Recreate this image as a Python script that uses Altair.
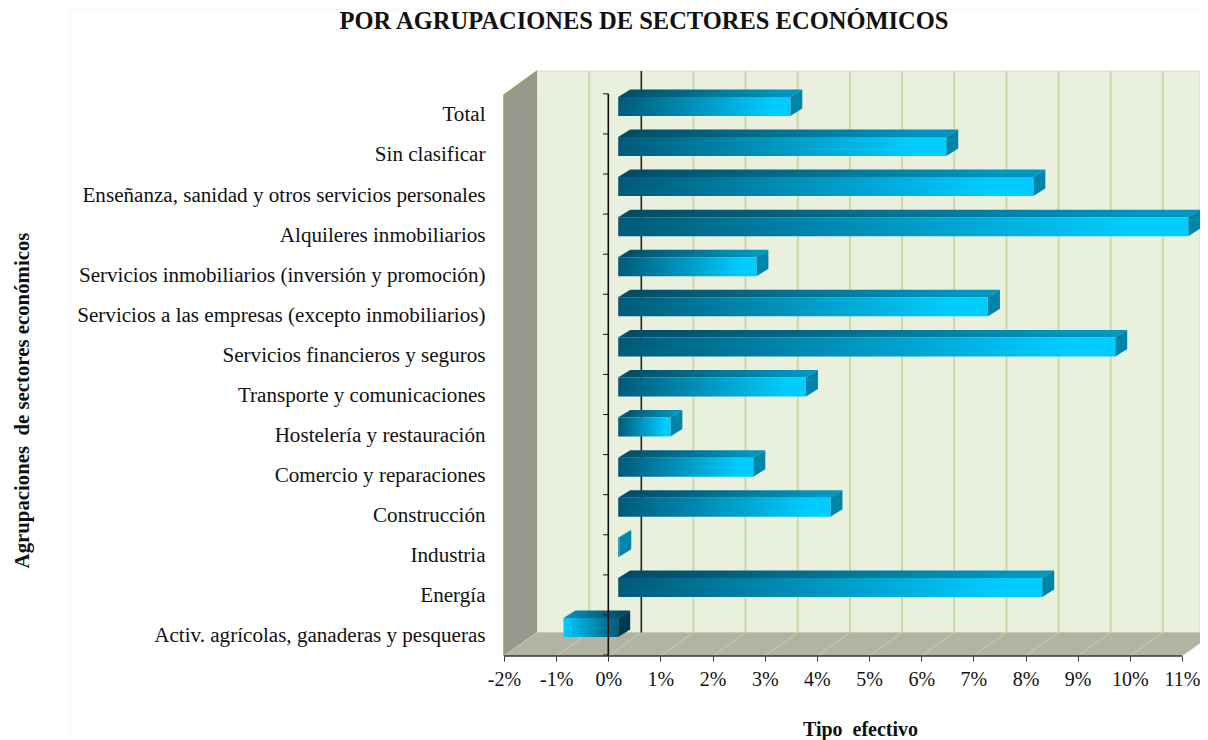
import altair as alt
import pandas as pd

categories = ["Activ. agrícolas, ganaderas y pesqueras", "Energía", "Industria", "Construcción",
              "Comercio y reparaciones", "Hostelería y restauración", "Transporte y comunicaciones",
              "Servicios financieros y seguros", "Servicios a las empresas (excepto inmobiliarios)",
              "Servicios inmobiliarios (inversión y promoción)", "Alquileres inmobiliarios",
              "Enseñanza, sanidad y otros servicios personales", "Sin clasificar", "Total"]
values = [-1.05, 8.13, 0.02, 4.07, 2.59, 1.0, 3.6, 9.53, 7.09, 2.65, 10.93, 7.96, 6.29, 3.3]
x_ticks = list(range(-2, 12))
y_ticks = [i - 0.5 for i in range(15)]

XMIN, XMAX, YMIN, YMAX = -2, 11.346, -0.524, 14.07
WX, WY = 0.633, 0.586       # depth of the 3D box
X0 = 0.19                    # bars stand part-way into the box
BCY, BH, BX, BY = 0.187, 0.237, 0.23, 0.187

font = "Liberation Serif"
x = alt.X("x:Q", scale=alt.Scale(domain=[XMIN, XMAX], nice=False, zero=False),
          axis=alt.Axis(values=x_ticks, labelExpr="datum.value + '%'", grid=False, domain=False,
                        tickColor="#333333", tickSize=5, labelPadding=8, labelFontSize=20, labelFont=font,
                        labelColor="#111111", labelFlush=False, title="Tipo\u00a0 efectivo", titleFont=font,
                        titleFontSize=20, titleFontWeight="bold", titleColor="#111111",
                        titleX=356, titleY=63))
y = alt.Y("y:Q", scale=alt.Scale(domain=[YMIN, YMAX], nice=False, zero=False),
          axis=alt.Axis(values=list(range(14)),
                        labelExpr="[" + ",".join(repr(c) for c in categories) + "][datum.value]",
                        grid=False, domain=False, ticks=False, labelPadding=19, labelFontSize=21.1, labelLimit=0,
                        labelOffset=1,
                        labelFont=font, labelColor="#111111", title="Agrupaciones\u00a0 de sectores económicos",
                        titleFont=font, titleFontSize=20.8, titleFontWeight="bold", titleColor="#111111",
                        titleX=-472, titleY=329, titleAngle=270))

def grad(c1, c2, stop=1.0):
    stops = [alt.GradientStop(offset=0, color=c1), alt.GradientStop(offset=stop, color=c2)]
    if stop < 1:
        stops.append(alt.GradientStop(offset=1, color=c2))
    return alt.Gradient(gradient="linear", x1=0, x2=1, y1=0, y2=0, stops=stops)

# Box
wall = pd.DataFrame([dict(x=XMIN + WX, x2=XMAX, y=WY + YMIN, y2=YMAX)])
floor = pd.DataFrame([dict(x=XMIN, x2=11, y=YMIN), dict(x=XMIN + WX, x2=11 + WX, y=YMIN + WY)])
left = pd.DataFrame([dict(x=XMIN, y=YMIN, y2=13.47), dict(x=XMIN + WX, y=YMIN + WY, y2=YMAX)])
layers = []
frame_h = pd.DataFrame([dict(x=-10.32, x2=XMAX, y=15.6)])
frame_v = pd.DataFrame([dict(x=-10.32, y=15.6, y2=-2.6)])
layers.append(alt.Chart(frame_h).mark_rule(color="#f6f6f6", strokeWidth=1).encode(x=x, x2="x2:Q", y=y))
layers.append(alt.Chart(frame_v).mark_rule(color="#f6f6f6", strokeWidth=1).encode(x=x, y=y, y2="y2:Q"))
layers.append(alt.Chart(wall).mark_rect(fill="#e9f0dd", stroke="#d6e2bd", strokeWidth=1).encode(x=x, x2="x2:Q", y=y, y2="y2:Q"))
layers.append(alt.Chart(floor).mark_area(orient="horizontal", fill="#b1b3a5").encode(x=x, x2="x2:Q", y=y))
layers.append(alt.Chart(left).mark_area(orient="vertical", fill="#96998b").encode(x=x, y=y, y2="y2:Q"))

# left-wall edges
edge = pd.DataFrame([dict(x=XMIN, y=YMIN), dict(x=XMIN, y=13.47), dict(x=XMIN + WX, y=YMAX)])
layers.append(alt.Chart(edge).mark_line(color="#8ea552", strokeWidth=1.5).encode(x=x, y=y, order="y:Q"))

# Gridlines on wall and floor
grid_x = [v for v in x_ticks if v not in (-2, 0) and v + WX < XMAX]
gw = pd.DataFrame([dict(x=v + WX, y=YMIN + WY, y2=YMAX) for v in grid_x])
layers.append(alt.Chart(gw).mark_rule(color="#cbd9a6", strokeWidth=2).encode(x=x, y=y, y2="y2:Q"))
gf = pd.DataFrame([r for v in x_ticks for r in (dict(x=v, y=YMIN, k=v), dict(x=v + WX, y=YMIN + WY, k=v))])
layers.append(alt.Chart(gf).mark_line(color="#c6d3a2", strokeWidth=1).encode(x=x, y=y, detail="k:N"))

# Back zero line
zb = pd.DataFrame([dict(x=WX, y=YMIN + WY, y2=YMAX)])
layers.append(alt.Chart(zb).mark_rule(color="#222222", strokeWidth=1.6).encode(x=x, y=y, y2="y2:Q"))

# Bars
pos = [(i, v) for i, v in enumerate(values) if v >= 0]
neg = [(i, v) for i, v in enumerate(values) if v < 0]

def faces(rows, c_front, c_top, c_end):
    out = []
    front = pd.DataFrame([dict(x=X0 + min(v, 0), x2=X0 + max(v, 0), y=i + BCY - BH, y2=i + BCY + BH) for i, v in rows])
    top = pd.DataFrame([r for i, v in rows for r in (
        dict(x=X0 + min(v, 0), x2=X0 + max(v, 0), y=i + BCY + BH, k=i),
        dict(x=X0 + min(v, 0) + BX, x2=X0 + max(v, 0) + BX, y=i + BCY + BH + BY, k=i))])
    end = pd.DataFrame([r for i, v in rows for r in (
        dict(x=X0 + max(v, 0), y=i + BCY - BH, y2=i + BCY + BH, k=i),
        dict(x=X0 + max(v, 0) + BX, y=i + BCY - BH + BY, y2=i + BCY + BH + BY, k=i))])
    out.append(alt.Chart(top).mark_area(orient="horizontal", fill=c_top).encode(x=x, x2="x2:Q", y=y, detail="k:N"))
    out.append(alt.Chart(end).mark_area(orient="vertical", fill=c_end).encode(x=x, y=y, y2="y2:Q", detail="k:N"))
    out.append(alt.Chart(front).mark_rect(fill=c_front).encode(x=x, x2="x2:Q", y=y, y2="y2:Q"))
    return out

layers += faces(pos, grad("#005a78", "#00ccff", 0.9), grad("#004a60", "#0096c0", 0.9), "#0085a8")
layers += faces(neg, grad("#00ccff", "#005a78"), grad("#0096c0", "#003f55"), "#003a50")

# Front zero axis with its ticks and baseline
zf = pd.DataFrame([dict(x=0, y=YMIN, y2=13.5)])
layers.append(alt.Chart(zf).mark_rule(color="#111111", strokeWidth=1.6).encode(x=x, y=y, y2="y2:Q"))
ticks = pd.DataFrame([dict(x=-0.1, x2=0, y=t) for t in y_ticks])
layers.append(alt.Chart(ticks).mark_rule(color="#111111", strokeWidth=1).encode(x=x, x2="x2:Q", y=y))
base = pd.DataFrame([dict(x=XMIN, x2=11, y=YMIN)])
layers.append(alt.Chart(base).mark_rule(color="#333333", strokeWidth=1.5).encode(x=x, x2="x2:Q", y=y))

chart = alt.layer(*layers).properties(
    width=696, height=585,
    padding={"left": 496, "top": 63, "right": 0, "bottom": 84},
    autosize=alt.AutoSizeParams(type="none"),
    title=alt.TitleParams("POR AGRUPACIONES DE SECTORES ECONÓMICOS", anchor="middle", frame="group", dx=-208,
                          offset=-25, font=font, fontSize=24.5, fontWeight="bold", color="#111111"),
    background="white",
).configure_view(stroke=None)

chart.save("out.html", embed_options={"renderer": "svg", "actions": False})
